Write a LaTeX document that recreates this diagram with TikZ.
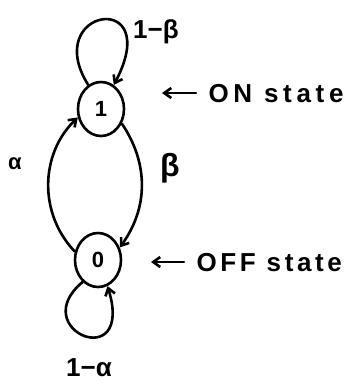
\documentclass[tikz,border=0pt]{standalone}
\usepackage{fontspec}
\setmainfont{Liberation Sans}
\usetikzlibrary{shapes.geometric,arrows.meta}
\begin{document}
\begin{tikzpicture}[x=1pt,y=-1pt,
  ink/.style={line width=2.6pt,line cap=round},
  state/.style={ink,draw,ellipse,minimum width=46pt,minimum height=54pt,inner sep=0pt,font=\bfseries\fontsize{22}{24}\selectfont},
  lab/.style={font=\bfseries\fontsize{26}{28}\selectfont},
  arr/.style={ink,-{Straight Barb[length=7pt,width=10pt]}}]
\useasboundingbox (0,0) rectangle (361,383);
\node[state] (s1) at (101,109) {1};
\node[state] (s0) at (98,260) {0};
% self loops
\draw[arr] (s1.118) .. controls (40,8) and (165,-12) .. (s1.62);
\draw[arr] (s0.235) .. controls (25,330) and (135,375) .. (s0.290);
% transitions
\draw[arr] (s0.160) to[bend left=45] (s1.200);
\draw[arr] (s1.-35) to[bend left=35] (s0.30);
% labels
\node[lab,font=\bfseries\fontsize{22}{24}\selectfont] (la) at (15,164) {α};
\node[lab,font=\bfseries\fontsize{32}{34}\selectfont] (lb) at (170,168) {β};
\node[lab] (l1b) at (156,32) {1−β};
\node[lab] (l1a) at (89,368) {1−α};
% state annotations
\coordinate (onA) at (196,93);
\coordinate (onB) at (162,93);
\draw[arr] (onA) -- (onB);
\node[lab,anchor=west] (on) at (205,94) {\addfontfeature{LetterSpace=18}ON state};
\coordinate (offA) at (184,262);
\coordinate (offB) at (151,262);
\draw[arr] (offA) -- (offB);
\node[lab,anchor=west] (off) at (193,263) {\addfontfeature{LetterSpace=14}OFF state};
\end{tikzpicture}
\end{document}
